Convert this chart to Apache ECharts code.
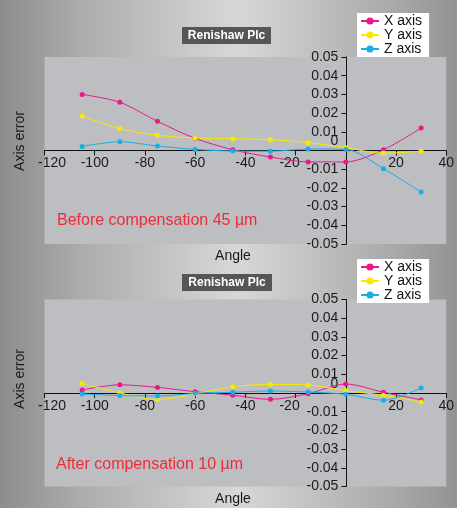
<!DOCTYPE html>
<html>
<head>
<meta charset="utf-8">
<script src="https://cdn.jsdelivr.net/npm/echarts@6/dist/echarts.min.js"></script>
<style>
html,body{margin:0;padding:0;}
#c{width:457px;height:508px;}
</style>
</head>
<body>
<div id="c"></div>
<script>
// ---- data ----
const angles = [-105, -90, -75, -60, -45, -30, -15, 0, 15, 30];
const beforeX = [0.030, 0.0258, 0.0156, 0.0065, 0.0004, -0.0035, -0.0061, -0.0061, 0.0004, 0.012];
const beforeY = [0.0184, 0.0117, 0.0081, 0.0067, 0.0063, 0.0058, 0.0042, 0.0015, -0.0015, -0.0003];
const beforeZ = [0.0022, 0.0047, 0.0024, 0.0006, -0.0003, -0.0004, 0.0008, 0.0006, -0.0097, -0.0222];
const afterX = [0.0016, 0.0044, 0.0030, 0.0007, -0.0012, -0.0034, -0.0004, 0.0048, 0.0004, -0.0037];
const afterY = [0.0051, 0.0, -0.0035, -0.0005, 0.0034, 0.0046, 0.0043, 0.0012, -0.0012, -0.0048];
const afterZ = [-0.0005, -0.0014, -0.0016, -0.0002, 0.0004, 0.0011, 0.0005, -0.0007, -0.0039, 0.0027];
const seriesNames = ['X axis', 'Y axis', 'Z axis'];
const chartTitle = 'Renishaw Plc';
const beforeLabel = 'Before compensation 45 µm';
const afterLabel = 'After compensation 10 µm';
const xName = 'Angle';
const yName = 'Axis error';

const colors = ['#e8198b', '#f7ea00', '#18aee8'];
const txt = '#1a1a1a';
const font = 'Liberation Sans, Arial, sans-serif';

const GL = 44.5, GW = 402.5, GH = 187;
const XMIN = -120, XMAX = 40, YMIN = -0.05, YMAX = 0.05;
// offsets to place axes through the origin (derived from axis ranges)
const yAxisOffset = -GW * (0 - XMIN) / (XMAX - XMIN);
const xAxisOffset = -GH * (0 - YMIN) / (YMAX - YMIN);

function pairs(vals) { return angles.map((a, i) => [a, vals[i]]); }

function xAxisCfg(gi) {
  return {
    type: 'value', gridIndex: gi, min: XMIN, max: XMAX, interval: 20,
    position: 'bottom', offset: xAxisOffset,
    axisLine: { onZero: false, lineStyle: { color: '#111', width: 1 } },
    axisTick: { show: true, length: 5, lineStyle: { color: '#111' } },
    splitLine: { show: false },
    axisLabel: {
      fontSize: 14, color: txt, fontFamily: font, margin: 6,
      formatter: function (v) {
        if (v === 0) return '';
        if (v === -120) return '{l|-120}';
        if (v === -20) return '{r|-20}';
        return String(v);
      },
      rich: {
        l: { fontSize: 14, color: txt, fontFamily: font, padding: [0, 0, 0, 15] },
        r: { fontSize: 14, color: txt, fontFamily: font, padding: [0, 12, 0, 0] }
      }
    }
  };
}
function yAxisCfg(gi) {
  return {
    type: 'value', gridIndex: gi, min: YMIN, max: YMAX, interval: 0.01,
    position: 'left', offset: yAxisOffset,
    axisLine: { show: true, onZero: false, lineStyle: { color: '#111', width: 1 } },
    axisTick: { show: true, length: 5, lineStyle: { color: '#111' } },
    splitLine: { show: false },
    axisLabel: {
      fontSize: 14, color: txt, fontFamily: font, margin: 8,
      formatter: function (v) {
        if (Math.abs(v) < 1e-9) return '{z|0}';
        return v.toFixed(2);
      },
      rich: { z: { fontSize: 14, color: txt, fontFamily: font, padding: [0, 0, 18, 0] } }
    }
  };
}
function seriesFor(gi, arrs) {
  return arrs.map((vals, i) => ({
    name: seriesNames[i], type: 'line', xAxisIndex: gi, yAxisIndex: gi,
    data: pairs(vals), smooth: 0.3, symbol: 'circle', symbolSize: 5,
    lineStyle: { width: 1, color: colors[i] },
    itemStyle: { color: colors[i] },
    emphasis: { disabled: true }
  }));
}
function legendCfg(top) {
  return {
    data: seriesNames, orient: 'vertical', left: 357, top: top,
    backgroundColor: '#ffffff', padding: [1, 7, 1, 3], itemGap: 0,
    itemWidth: 18, itemHeight: 9,
    textStyle: { fontSize: 14, lineHeight: 12, color: '#111', fontFamily: font }
  };
}
function titleBox(x, y, w, h) {
  return [
    { type: 'rect', shape: { x: x, y: y, width: w, height: h }, style: { fill: '#565656' }, z: 10 },
    { type: 'text', x: x + w / 2, y: y + h / 2 + 0.5, style: { text: chartTitle, fill: '#ffffff', font: 'bold 12px ' + font, align: 'center', verticalAlign: 'middle' }, z: 11 }
  ];
}
function textAt(s, x, y, size, color, rot, align) {
  return { type: 'text', x: x, y: y, rotation: rot || 0, style: { text: s, fill: color, font: size + 'px ' + font, align: align || 'center', verticalAlign: 'middle' }, z: 10 };
}

const chart = echarts.init(document.getElementById('c'), null, { renderer: 'canvas' });
chart.setOption({
  animation: false,
  backgroundColor: {
    type: 'linear', x: 0, y: 0, x2: 1, y2: 0,
    colorStops: [
      { offset: 0, color: '#8d8d8d' },
      { offset: 0.18, color: '#acacac' },
      { offset: 0.52, color: '#d7d7d7' },
      { offset: 0.85, color: '#ababab' },
      { offset: 1, color: '#939393' }
    ]
  },
  grid: [
    { left: GL, top: 57, width: GW, height: GH, show: true, backgroundColor: '#bdbec2', borderWidth: 0 },
    { left: GL, top: 299.5, width: GW, height: GH, show: true, backgroundColor: '#bdbec2', borderWidth: 0 }
  ],
  xAxis: [xAxisCfg(0), xAxisCfg(1)],
  yAxis: [yAxisCfg(0), yAxisCfg(1)],
  legend: [legendCfg(13), legendCfg(259)],
  series: seriesFor(0, [beforeX, beforeY, beforeZ]).concat(seriesFor(1, [afterX, afterY, afterZ])),
  graphic: [].concat(
    titleBox(182, 27, 89, 17),
    titleBox(182, 274, 90, 17),
    [
      textAt(yName, 20, 141, 14, txt, Math.PI / 2),
      textAt(yName, 20, 379, 14, txt, Math.PI / 2),
      textAt(xName, 233, 256.5, 14, txt),
      textAt(xName, 233, 499, 14, txt),
      textAt(beforeLabel, 57, 221, 16, '#ec2c3a', 0, 'left'),
      textAt(afterLabel, 56, 465, 16, '#ec2c3a', 0, 'left')
    ]
  )
});
</script>
</body>
</html>
